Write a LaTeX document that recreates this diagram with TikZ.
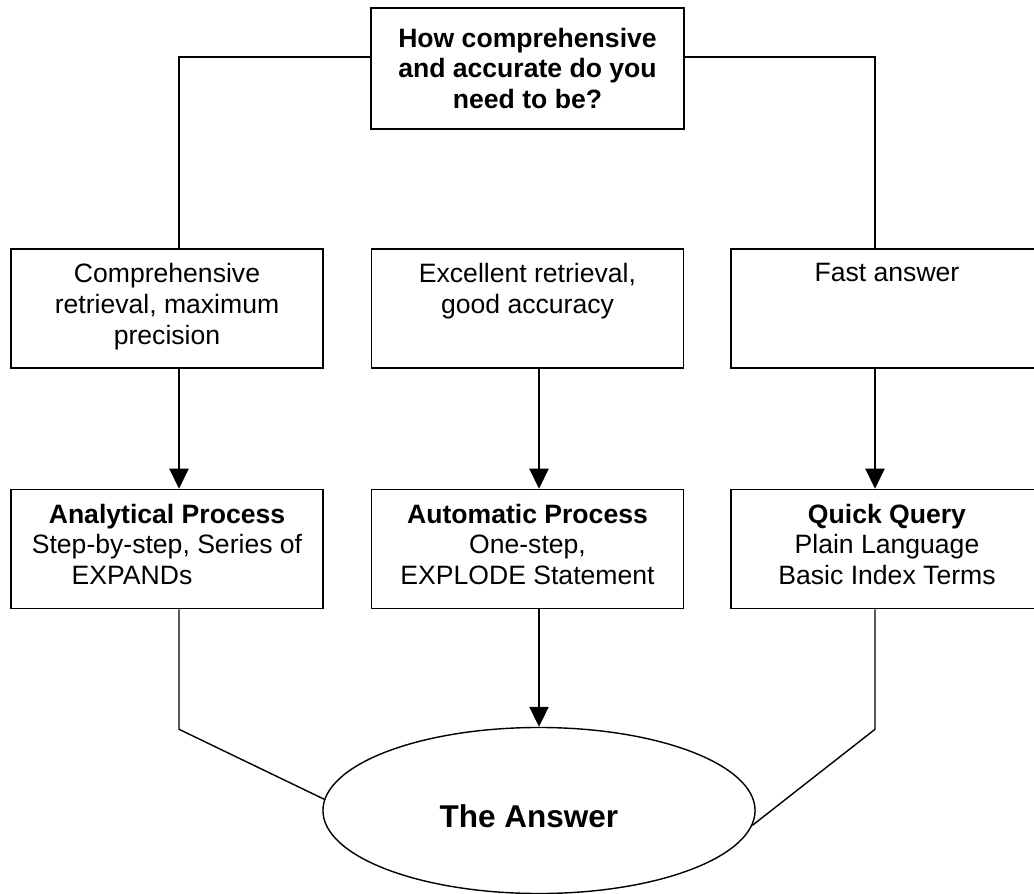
\documentclass[tikz,border=0pt]{standalone}
\usepackage{fontspec}
\setmainfont{Liberation Sans}
\usetikzlibrary{positioning,shapes.geometric,arrows.meta}

\begin{document}
\begin{tikzpicture}[x=0.025cm, y=-0.025cm,
		font=\fontsize{18.9}{21.8}\selectfont,
		box/.style={rectangle, draw=black, line width=1.1pt, minimum width=7.8cm, minimum height=2.975cm},
		txt/.style={align=center, inner sep=0pt},
		bold/.style={font=\fontsize{18.9}{21.8}\selectfont\bfseries},
		link/.style={line width=1pt},
		arr/.style={-{Triangle[length=0.5cm, width=0.48cm]}}]

		\useasboundingbox (0,0) rectangle (1034,894);

		\node(question)[box, bold, align=center, minimum width=7.825cm, minimum height=3.025cm] at (527.5,68.5) {How comprehensive\\and accurate do you\\need to be?};

		\node(opt-1)[box] at (167,308.5) {};
		\node(opt-2)[box] at (527.5,308.5) {};
		\node(opt-3)[box] at (887,308.5) {};

		\node(proc-1)[box] at (167,549) {};
		\node(proc-2)[box] at (527.5,549) {};
		\node(proc-3)[box] at (887,549) {};

		\node(opt-1-text)[txt, below=0.375cm of opt-1.north] {Comprehensive\\retrieval, maximum\\precision};
		\node(opt-2-text)[txt, below=0.375cm of opt-2.north] {Excellent retrieval,\\good accuracy};
		\node(opt-3-text)[txt, below=0.375cm of opt-3.north] {Fast answer};

		\node(proc-1-text)[txt, below=0.375cm of proc-1.north] {\textbf{Analytical Process}\\Step-by-step, Series of\\EXPANDs\hspace*{1.75cm}};
		\node(proc-2-text)[txt, below=0.375cm of proc-2.north] {\textbf{Automatic Process}\\One-step,\\EXPLODE Statement};
		\node(proc-3-text)[txt, below=0.375cm of proc-3.north] {\textbf{Quick Query}\\Plain Language\\Basic Index Terms};

		\node(answer)[ellipse, draw=black, line width=1pt, minimum width=10.8cm, minimum height=4.15cm] at (539,810.5) {};
		\node(answer-text)[font=\fontsize{22.4}{26}\selectfont\bfseries] at (529,816.5) {The Answer};

		\draw[link] ([yshift=0.2875cm]question.west) -| ([xshift=0.3cm]opt-1.north);
		\draw[link] ([yshift=0.2875cm]question.east) -| ([xshift=-0.3cm]opt-3.north);

		\draw[link, arr] ([xshift=0.3cm]opt-1.south) -- ([xshift=0.3cm]proc-1.north);
		\draw[link, arr] (answer.north |- opt-2.south) -- (answer.north |- proc-2.north);
		\draw[link, arr] ([xshift=-0.3cm]opt-3.south) -- ([xshift=-0.3cm]proc-3.north);

		\draw[link] ([xshift=0.3cm]proc-1.south) -- ++(0,120) -- (answer.177);
		\draw[link, arr] (answer.north |- proc-2.south) -- (answer.north);
		\draw[link] ([xshift=-0.3cm]proc-3.south) -- ++(0,120) -- (answer.-4);
	\end{tikzpicture}
\end{document}
